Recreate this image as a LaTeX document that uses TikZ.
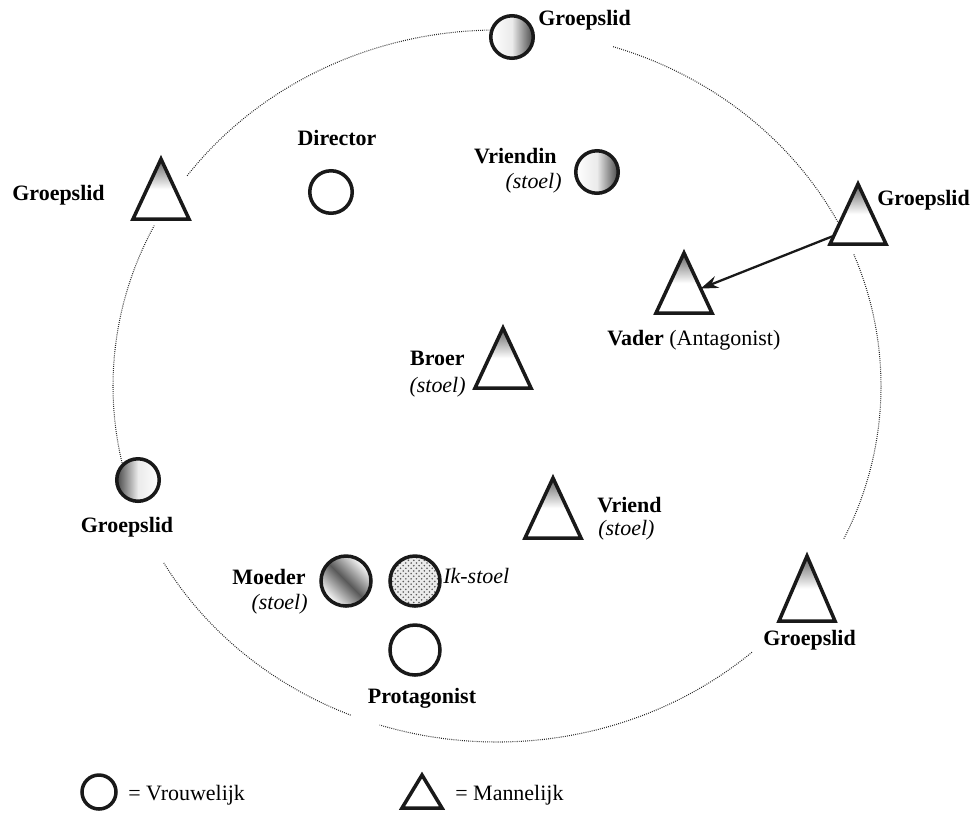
\documentclass[tikz,border=0pt]{standalone}
\usepackage{fontspec}
\setmainfont{Liberation Serif}
\usetikzlibrary{shapes.geometric, arrows.meta, patterns}

\tikzset{
  lab/.style={inner sep=0pt, font=\fontsize{12.5}{15}\selectfont\bfseries},
  ilab/.style={inner sep=0pt, font=\fontsize{12.5}{15}\selectfont\itshape},
  rlab/.style={inner sep=0pt, font=\fontsize{12.5}{15}\selectfont},
  pers/.style={circle, draw=black!90, line width=2pt, fill=white, inner sep=0pt, minimum size=0.85cm},
  bigpers/.style={pers, minimum size=1.0cm},
  manbase/.style={isosceles triangle, isosceles triangle stretches, shape border rotate=90,
    draw=black!90, line width=2pt, inner sep=0pt, outer sep=0pt, fill=white,
    minimum width=1.12cm, minimum height=1.2cm},
  man/.style={manbase, top color=black!62, bottom color=white, middle color=white},
  shadeR/.style={left color=white, right color=black!72, middle color=black!8},
  shadeL/.style={left color=black!72, right color=white, middle color=black!8},
  shadeD/.style={top color=white, bottom color=white, middle color=black!65, shading angle=135},
  orbit/.style={line width=0.6pt, black!85, dash pattern=on 0.5pt off 0.7pt},
  pijl/.style={line width=1.3pt, black!90, -{Stealth[length=10pt, width=7pt]}}
}

\begin{document}
\begin{tikzpicture}[x=0.02cm, y=-0.02cm]
\useasboundingbox (0,0) rectangle (976,816);

% group circle (dotted)
\foreach \a/\b in {287.6/332.5, 338.3/385.4, 48.4/107.8, 112.4/150.2, 167.5/206.8, 216.2/269.5}
  \draw[orbit] plot[domain=\a:\b, samples=80, smooth] ({497+384*cos(\x)},{386+356*sin(\x)});

% persons
\node[pers, shadeR] (gtop) at (512,37) {};
\node[lab, anchor=base west] (lgtop) at (538,25) {Groepslid};

\node[pers] (dir) at (331,192) {};
\node[lab, anchor=base] (ldir) at (337,145) {Director};

\node[pers, shadeR] (vriendin) at (597,172) {};
\node[lab, anchor=base east] (lvriendin) at (557,163) {Vriendin};
\node[ilab, anchor=base east] (svriendin) at (562,188) {(stoel)};

\node[man, anchor=south] (gl) at (161,219) {};
\node[lab, anchor=base west] (lgl) at (12,200) {Groepslid};

\node[man, anchor=south] (gr) at (858,244) {};
\node[lab, anchor=base west] (lgr) at (877,205) {Groepslid};

\node[man, anchor=south] (vader) at (684,313) {};
\node[rlab, anchor=base west] (lvader) at (607,345) {\textbf{Vader} (Antagonist)};

\node[man, anchor=south] (broer) at (503,388) {};
\node[lab, anchor=base east] (lbroer) at (465,365) {Broer};
\node[ilab, anchor=base east] (sbroer) at (466,392) {(stoel)};

\node[man, anchor=south] (vriend) at (553,538) {};
\node[lab, anchor=base west] (lvriend) at (597,512) {Vriend};
\node[ilab, anchor=base west] (svriend) at (598,535) {(stoel)};

\node[pers, shadeL] (gleft) at (138,480) {};
\node[lab, anchor=base] (lgleft) at (127,532) {Groepslid};

\node[bigpers, shadeD] (moeder) at (346,581) {};
\node[lab, anchor=base east] (lmoeder) at (306,584) {Moeder};
\node[ilab, anchor=base east] (smoeder) at (308,609) {(stoel)};

\node[bigpers, preaction={fill=black!8}, fill=none, pattern=crosshatch dots, pattern color=black!65] (ik) at (415,581) {};
\node[ilab, anchor=base west] (lik) at (443,583) {Ik-stoel};

\node[bigpers] (prot) at (415,650) {};
\node[lab, anchor=base] (lprot) at (422,703) {Protagonist};

\node[man, anchor=south, minimum height=1.3cm] (gbr) at (807,621) {};
\node[lab, anchor=base west] (lgbr) at (763,645) {Groepslid};

% arrow
\draw[pijl] (gr) -- (vader);

% legend
\node[pers, minimum size=0.68cm] (legc) at (99,792) {};
\node[rlab, anchor=base west] (llegc) at (128,800) {= Vrouwelijk};
\node[manbase, anchor=south, minimum width=0.8cm, minimum height=0.66cm] (legt) at (422,808) {};
\node[rlab, anchor=base west] (llegt) at (455,800) {= Mannelijk};
\end{tikzpicture}
\end{document}
